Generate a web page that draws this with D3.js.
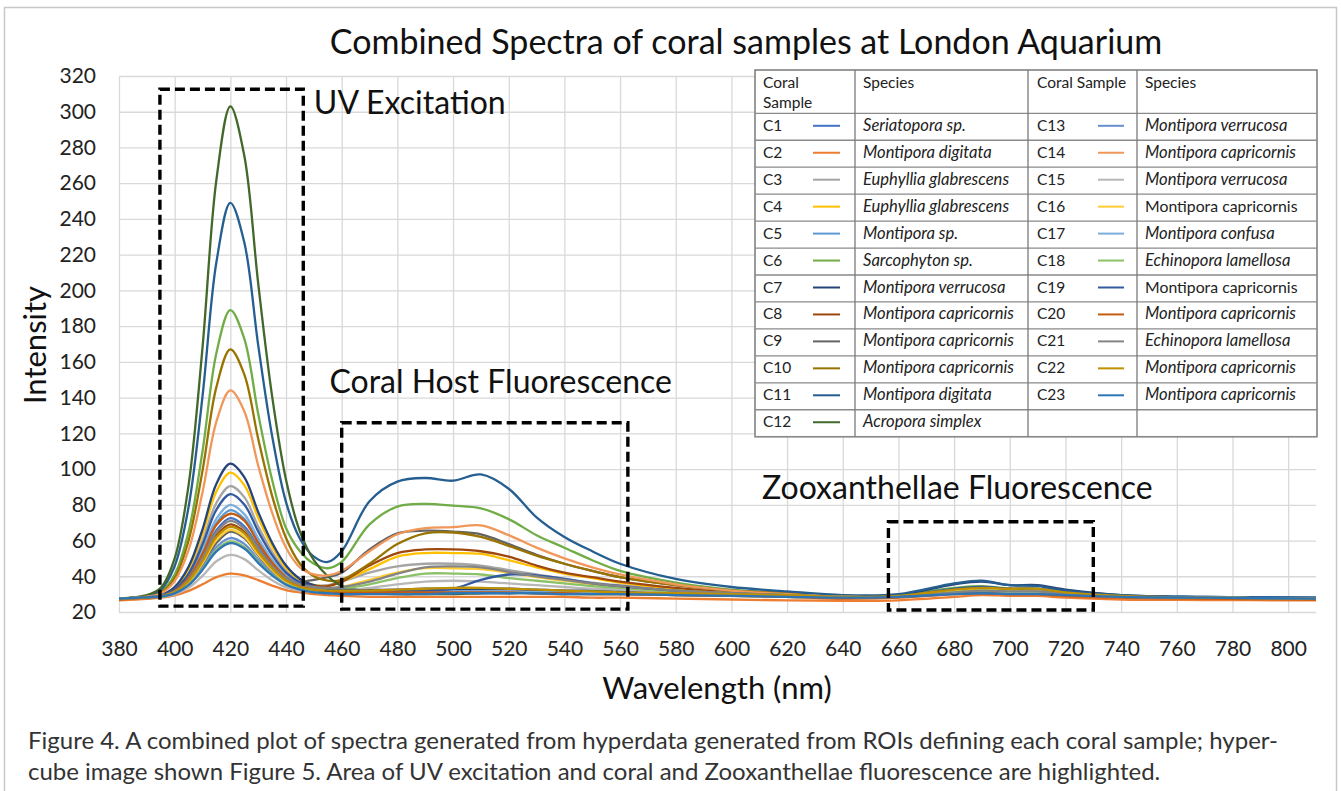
<!DOCTYPE html>
<html>
<head>
<meta charset="utf-8">
<script src="https://cdn.jsdelivr.net/npm/d3@7"></script>
<style>
  body { margin: 0; background: #fff; }
  svg { display: block; font-family: Lato, "Open Sans", sans-serif; }
</style>
</head>
<body>
<script>
// wavelength grid (nm) the spectra were read at
var wavelengths = [380,390,395,400,405,410,415,420,425,430,435,440,445,450,455,460,470,480,490,500,510,520,530,540,550,560,580,600,620,640,660,680,690,700,710,720,740,770,810];

// intensity per coral sample
var c1  = [27.5,28.2,28.9,31.6,38.2,50.7,65.8,72.5,68,56.5,46.2,38.7,34.5,32.5,31.5,31,31,31.5,32,32,32.5,32.5,32,31.5,31,31,30.5,30,29.5,28.5,29,32,33,32,32,30.5,29,28,27.5];
var c2  = [26.5,27.3,28,29.3,31.8,35.5,39.5,41.5,40.5,37.8,34.8,32.3,31,30,29.5,29,28.5,28.5,28.5,28.5,28.5,28.5,28.5,28.5,28,28,27.5,27,26.5,26.3,26.5,28.5,29.5,29,29,28,27,26.7,26.5];
var c3  = [27.5,28.3,29.3,33,42.4,59.9,81.1,90.5,84.3,68,53.6,43,37,35,35,37,42,45.5,47,47,46,43.5,41,38.5,36.5,35,32.5,30.5,29.5,28.5,28.5,31,32,31.5,31.5,30,28.5,28,27.5];
var c4  = [27.5,28.4,29.4,33.6,44.1,63.7,87.5,98,91,72.8,56.7,44.8,38,35,34.5,37,44,51,53,53,52.5,49,45,41.5,39,36.5,33,31,29.5,28.5,28.5,32,33,32.5,32.5,31,29,28,27.5];
var c5  = [27.5,28.2,29,31.9,39.3,53,69.7,77,72.1,59.4,48.1,39.8,35,32.5,31.5,31,30.5,30.5,31,31,31.5,31.5,31,31,30.5,30.5,30,29.5,29,28,28.5,31,31.5,31,31,30,28.5,28,27.5];
var c6  = [27.5,28.8,31.2,40.9,65,110,165,189,173,131,94,67,54,47,44.5,48,69,79,80.5,79.5,78,72,63,56,49,43,36.5,32.5,30.5,29,29.5,33.5,34.5,33,33,31,29,28,27.5];
var c7  = [27.5,28.4,29.5,34,45.3,66.3,91.8,103,95.5,76,58.8,46,38.5,35,33.5,33,32.5,32.5,33,33,33,33,32.5,32,32,31.5,30.5,30,29.5,28.5,29.5,35.5,37,35,35,32.5,29.5,28.5,28];
var c8  = [27.5,28.2,28.8,31.3,37.4,48.9,62.9,69,64.9,54.2,44.8,38.5,35.5,34.5,34.5,37,46,53,55,55,54,51,46,42,39.5,37,33.5,31,29.5,28.5,28.5,31.5,32.5,32,32,30.5,28.5,28,27.5];
var c9  = [27.5,28.2,28.7,30.9,36.3,46.4,58.6,65,61.3,51.7,43.2,38,37,38,39.5,42,55,64,65.5,65,63.5,58,52,47,43,39.5,35,32,30.5,29,29,32,33,32.5,32.5,31,29,28,27.5];
var c10 = [27.5,28.7,30.8,39,60,99,146,167,153,117,85,61.4,47,40,37.5,38,47,58,64,64.5,62,57,51.5,47,43,39.5,35,32,30.5,29,29,32.5,33.5,33,33,31,29,28,27.5];
var c11 = [27.5,29,32.4,45.7,78.8,140.7,215.9,249,226.9,169.4,118.6,81.5,61,51,48,54,82,93,95,93.5,97,89,73,62,54,47,38.5,34,31.5,29.5,30,36,37.5,35,34.5,32,29.5,28.5,28];
var c12 = [27.5,29.4,33.5,50,91,168,262,303,275.5,204,140.8,94,65,49,40,34.5,31,30,30,30,30.5,30.5,30.5,30,30,30,29.5,29,28.5,28,28.5,31,31.5,31,31,30,28.5,28,27.5];
var c13 = [27.5,28.2,28.7,30.7,35.7,45,56.4,61.4,58.1,49.4,41.7,36,33,31.5,31,30.5,30.5,31,31,31.5,31.5,31.5,31,31,30.5,30.5,30,29.5,29,28,28.5,31,31.5,31,31,30,28.5,28,27.5];
var c14 = [27.5,28.6,30.3,37.3,54.7,87,126.6,144,132.4,102,75.6,56,45,41,40.5,43,54,63.5,67,67.5,68.5,63,56,50,45,41,35.5,32,30,28.5,28.5,31.5,32.5,32,32,30.5,28.5,28,27.5];
var c15 = [27.5,28.1,28.5,29.9,33.5,40.2,48.4,52,49.6,43.4,37.8,33.8,32,31.5,31.5,32,33.5,35.5,37,37.5,37,36,35,34,33,32.5,31,30,29.5,28.5,28.5,31,32,31.5,31.5,30,28.5,28,27.5];
var c16 = [27.5,28.2,28.8,31,36.7,47.4,60.3,66,62.2,52.3,43.6,37.1,34,33,33,34,38,42,44.5,44.5,44,42,39.5,37.5,35.5,34,32,30.5,29.5,28.5,28.5,31.5,32.5,32,32,30.5,28.5,28,27.5];
var c17 = [27.5,28.3,29,32.2,40,54.5,72.2,80,74.8,61.3,49.3,40.5,35.5,33,32,31.5,31,31,31,31.5,31.5,31.5,31,31,30.5,30.5,30,29.5,29,28,28.5,30.5,31,30.5,30.5,29.5,28.5,28,27.5];
var c18 = [27.5,28.2,28.6,30.5,35.2,44.1,54.8,59.5,56.4,48.2,40.9,35.6,33,32,32,33,35.5,39,41.5,41.5,41,39,37.5,36,34.5,33.5,31.5,30,29.5,28.5,28.5,31,32,31.5,31.5,30,28.5,28,27.5];
var c19 = [27.5,28.3,29.2,32.6,41.3,57.6,77.3,86,80.2,65.1,51.8,42,36.5,34,33,32.5,32,32,32,33,38,41,40.5,38.5,36,34.5,32,30.5,29.5,28.5,29,33,34,33,33,31,29,28,27.5];
var c20 = [27,28,28.8,31.8,39,52.5,68.8,75,71.2,58.7,47.7,39.5,35,32.5,31.5,31,31,31,31,31,31,31,30.5,30.5,30,30,29.5,29,28.5,27.5,28,30,30.5,30,30,29,28,27.5,27];
var c21 = [27.5,28.2,28.9,31.4,37.9,49.9,64.6,71,66.7,55.5,45.6,39,35.5,34,33.5,34,37,41.5,45,45.5,45,42.5,40,38,36,34.5,32,30.5,29.5,28.5,28.5,31,32,31.5,31.5,30,28.5,28,27.5];
var c22 = [27.5,28.2,28.8,31.2,37.2,48.4,62,67.7,64,53.6,44.4,37.6,34,32.5,32,32,32,32.5,33,33.5,33.5,33,32.5,32,31.5,31,30.5,30,29.5,28.5,29,32.5,33.5,33,33,31,29,28,27.5];
var c23 = [27.5,28.2,28.6,30.4,35,43.6,53.9,58.5,55.5,47.5,40.5,35.3,32.5,31,30.5,30,30,30,30,30.5,30.5,30.5,30.5,30,30,30,29.5,29,28.5,28,28.5,30,30.5,30,30,29.5,28.5,28,27.5];

var samples = ["C1","C2","C3","C4","C5","C6","C7","C8","C9","C10","C11","C12","C13","C14","C15","C16","C17","C18","C19","C20","C21","C22","C23"];
var species = ["Seriatopora sp.","Montipora digitata","Euphyllia glabrescens","Euphyllia glabrescens","Montipora sp.","Sarcophyton sp.","Montipora verrucosa","Montipora capricornis","Montipora capricornis","Montipora capricornis","Montipora digitata","Acropora simplex","Montipora verrucosa","Montipora capricornis","Montipora verrucosa","Montipora capricornis","Montipora confusa","Echinopora lamellosa","Montipora capricornis","Montipora capricornis","Echinopora lamellosa","Montipora capricornis","Montipora capricornis"];
var uprightSpecies = ["C16","C19"];
var colors = ["#4472C4","#ED7D31","#A5A5A5","#FFC000","#5B9BD5","#70AD47","#264478","#9E480E","#636363","#997300","#255E91","#43682B","#698ED0","#F1975A","#B7B7B7","#FFCD33","#7CAFDD","#8CC168","#335AA1","#C55A11","#848484","#BF9000","#2E75B6"];
var series = [c1,c2,c3,c4,c5,c6,c7,c8,c9,c10,c11,c12,c13,c14,c15,c16,c17,c18,c19,c20,c21,c22,c23];

var xTicks = [380,400,420,440,460,480,500,520,540,560,580,600,620,640,660,680,700,720,740,760,780,800];
var yTicks = [20,40,60,80,100,120,140,160,180,200,220,240,260,280,300,320];

// highlighted regions [x0, x1, y0, y1] in data units, and their labels
var regionBoxes = [[394.7,446.2,23.3,312.6],[460.0,562.8,21.6,125.9],[656.4,730.0,21.1,70.5]];
var regionNames = ["UV Excitation","Coral Host Fluorescence","Zooxanthellae Fluorescence"];
var regionLabelAt = [[450.0,298.5],[455.6,142.8],[611.0,83]];

var width = 1341, height = 791;

var svg = d3.select("body").append("svg")
  .attr("width", width)
  .attr("height", height);

// outer figure frame
svg.append("rect")
  .attr("x", 4.5).attr("y", 7.5)
  .attr("width", 1332).attr("height", 800)
  .attr("fill", "none")
  .attr("stroke", "#c8c8c8")
  .attr("stroke-width", 1.5);

var x = d3.scaleLinear().domain([380, 810]).range([119, 1316]);
var y = d3.scaleLinear().domain([20, 320]).range([612, 76]);

// grid
svg.append("g")
  .attr("transform", "translate(0,612)")
  .call(d3.axisBottom(x).tickValues(xTicks).tickSize(-536).tickFormat(""))
  .call(function(g){
    g.select(".domain").remove();
    g.selectAll("line").attr("stroke", "#d9d9d9").attr("stroke-width", 1.3);
  });
svg.append("g")
  .attr("transform", "translate(119,0)")
  .call(d3.axisLeft(y).tickValues(yTicks).tickSize(-1197).tickFormat(""))
  .call(function(g){
    g.select(".domain").remove();
    g.selectAll("line").attr("stroke", "#d9d9d9").attr("stroke-width", 1.3);
  });

// tick labels
svg.append("g")
  .attr("transform", "translate(0,612)")
  .call(d3.axisBottom(x).tickValues(xTicks).tickSize(0).tickPadding(29))
  .call(function(g){
    g.select(".domain").remove();
    g.selectAll("text").attr("font-size", 21).attr("fill", "#222").attr("font-family", "Lato");
  });
svg.append("g")
  .attr("transform", "translate(119,0)")
  .call(d3.axisLeft(y).tickValues(yTicks).tickSize(0).tickPadding(23))
  .call(function(g){
    g.select(".domain").remove();
    g.selectAll("text").attr("font-size", 21).attr("fill", "#222").attr("font-family", "Lato");
  });

// spectra
var line = d3.line()
  .x(function(d, i){ return x(wavelengths[i]); })
  .y(function(d){ return y(d); })
  .curve(d3.curveCatmullRom.alpha(0.5));

svg.append("g").selectAll("path")
  .data(series)
  .enter()
  .append("path")
  .attr("d", line)
  .attr("fill", "none")
  .attr("stroke", function(d, i){ return colors[i]; })
  .attr("stroke-width", 2.3)
  .attr("stroke-linejoin", "round");

// dashed highlight boxes
svg.append("g").selectAll("rect")
  .data(regionBoxes)
  .enter()
  .append("rect")
  .attr("x", function(d){ return x(d[0]); })
  .attr("y", function(d){ return y(d[3]); })
  .attr("width", function(d){ return x(d[1]) - x(d[0]); })
  .attr("height", function(d){ return y(d[2]) - y(d[3]); })
  .attr("fill", "none")
  .attr("stroke", "#000")
  .attr("stroke-width", 3.4)
  .attr("stroke-dasharray", "10,5");

svg.append("g").selectAll("text")
  .data(regionNames)
  .enter()
  .append("text")
  .attr("x", function(d, i){ return x(regionLabelAt[i][0]); })
  .attr("y", function(d, i){ return y(regionLabelAt[i][1]); })
  .attr("font-size", 32)
  .attr("fill", "#111")
  .text(function(d){ return d; });

// titles
svg.append("text")
  .attr("x", 746).attr("y", 54)
  .attr("text-anchor", "middle")
  .attr("font-size", 34)
  .attr("fill", "#111")
  .text("Combined Spectra of coral samples at London Aquarium");

svg.append("text")
  .attr("x", 717).attr("y", 699)
  .attr("text-anchor", "middle")
  .attr("font-size", 31)
  .attr("fill", "#111")
  .text("Wavelength (nm)");

svg.append("text")
  .attr("transform", "translate(46,345) rotate(-90)")
  .attr("text-anchor", "middle")
  .attr("font-size", 31)
  .attr("fill", "#111")
  .text("Intensity");

// legend table
var tLeft = 755, tTop = 70, headH = 43.3, rowH = 26.95;
var cols = [755, 855, 1028, 1137, 1317];
var rows = 12;
var legend = svg.append("g");

legend.append("rect")
  .attr("x", tLeft).attr("y", tTop)
  .attr("width", cols[4] - tLeft)
  .attr("height", headH + rows * rowH)
  .attr("fill", "#fff")
  .attr("stroke", "#7a7a7a")
  .attr("stroke-width", 1.5);

for (var r = 0; r <= rows; r++) {
  legend.append("line")
    .attr("x1", tLeft).attr("x2", cols[4])
    .attr("y1", tTop + headH + r * rowH).attr("y2", tTop + headH + r * rowH)
    .attr("stroke", "#8a8a8a").attr("stroke-width", 1.3);
}
cols.slice(1, 4).forEach(function(cx){
  legend.append("line")
    .attr("x1", cx).attr("x2", cx)
    .attr("y1", tTop).attr("y2", tTop + headH + rows * rowH)
    .attr("stroke", "#7a7a7a").attr("stroke-width", 1.3);
});

var headStyle = function(t){ return t.attr("font-size", 15.5).attr("fill", "#222"); };
headStyle(legend.append("text").attr("x", 763).attr("y", 88).text("Coral"));
headStyle(legend.append("text").attr("x", 763).attr("y", 108).text("Sample"));
headStyle(legend.append("text").attr("x", 863).attr("y", 88).text("Species"));
headStyle(legend.append("text").attr("x", 1037).attr("y", 88).text("Coral Sample"));
headStyle(legend.append("text").attr("x", 1145).attr("y", 88).text("Species"));

samples.forEach(function(s, i){
  var right = i >= rows;
  var r = right ? i - rows : i;
  var top = tTop + headH + r * rowH;
  var base = top + 17.5;
  var upright = uprightSpecies.indexOf(s) >= 0;
  legend.append("text")
    .attr("x", right ? 1037 : 763).attr("y", base)
    .attr("font-size", 15.5).attr("fill", "#222")
    .text(s);
  legend.append("line")
    .attr("x1", right ? 1098 : 813).attr("x2", right ? 1124 : 840)
    .attr("y1", top + 12.5).attr("y2", top + 12.5)
    .attr("stroke", colors[i]).attr("stroke-width", 2);
  legend.append("text")
    .attr("x", right ? 1145 : 863).attr("y", base)
    .attr("font-size", upright ? 15.8 : 16.6).attr("fill", "#222")
    .attr("font-style", upright ? "normal" : "italic")
    .text(species[i]);
});

// figure caption
var caption = ["Figure 4. A combined plot of spectra generated from hyperdata generated from ROIs defining each coral sample; hyper-",
               "cube image shown Figure 5. Area of UV excitation and coral and Zooxanthellae fluorescence are highlighted."];
svg.append("g").selectAll("text")
  .data(caption)
  .enter()
  .append("text")
  .attr("x", 28)
  .attr("y", function(d, i){ return 749 + i * 31; })
  .attr("font-size", 24)
  .attr("fill", "#333")
  .text(function(d){ return d; });
</script>
</body>
</html>
